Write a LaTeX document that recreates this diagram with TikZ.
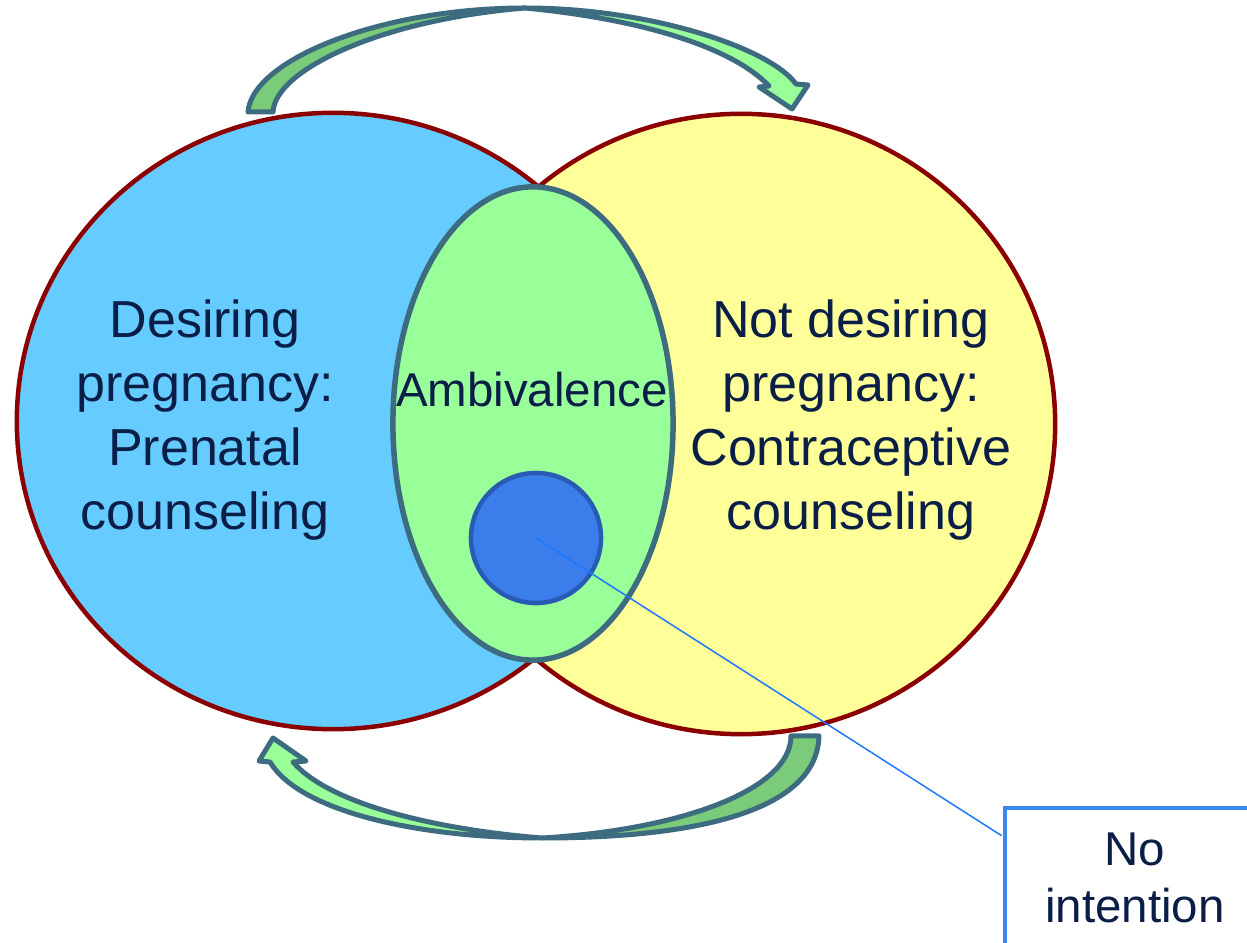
\documentclass[tikz,border=0pt]{standalone}
\usepackage{fontspec}
\setmainfont{Liberation Sans}
\usetikzlibrary{shapes.geometric}
\definecolor{venred}{RGB}{139,0,0}
\definecolor{venblue}{RGB}{102,204,255}
\definecolor{venyellow}{RGB}{255,255,153}
\definecolor{vengreen}{RGB}{153,255,153}
\definecolor{banddark}{RGB}{122,204,122}
\definecolor{bandedge}{RGB}{61,107,128}
\definecolor{dotblue}{RGB}{58,125,235}
\definecolor{dotedge}{RGB}{40,92,180}
\definecolor{callblue}{RGB}{30,120,255}
\definecolor{boxblue}{RGB}{60,134,240}
\definecolor{navy}{RGB}{10,30,72}
\newcommand\bigtext{\fontsize{14.8}{18.2}\selectfont}
\newcommand\smalltext{\fontsize{13.5}{16.2}\selectfont}
\begin{document}
\begin{tikzpicture}[x=0.01cm,y=-0.01cm,
  venn/.style={ellipse,draw=venred,line width=0.045cm,inner sep=0},
  vtext/.style={text=navy,align=center,inner sep=0},
  band/.style={draw=bandedge,line width=0.05cm,line join=round}]
\useasboundingbox (0,0) rectangle (1247,943);

\filldraw[band,fill=banddark] (248,112) .. controls (252,60) and (380,8) .. (525,8)
  .. controls (380,20) and (275,70) .. (273,112) -- cycle;
\filldraw[band,fill=vengreen] (525,8) .. controls (650,8) and (770,48) .. (796,84)
  -- (808,85) -- (792,109) -- (759,87) -- (769,86)
  .. controls (735,50) and (650,20) .. (525,8) -- cycle;
\filldraw[band,fill=banddark] (819,736) .. controls (817,810) and (700,838) .. (542,838)
  .. controls (680,830) and (791,790) .. (791,736) -- cycle;
\filldraw[band,fill=vengreen] (542,838) .. controls (420,838) and (300,812) .. (270,762)
  -- (259,761) -- (273,738) -- (306,761) -- (293,762)
  .. controls (330,805) and (440,830) .. (542,838) -- cycle;

\node[venn,fill=venblue,minimum width=6.32cm,minimum height=6.16cm] (desire) at (333,421) {};
\node[venn,fill=venyellow,minimum width=6.28cm,minimum height=6.20cm] (nodesire) at (741,424) {};
\node[ellipse,draw=bandedge,fill=vengreen,line width=0.055cm,inner sep=0,
  minimum width=2.80cm,minimum height=4.73cm] (ambi) at (533,423.5) {};
\node[circle,draw=dotedge,fill=dotblue,line width=0.045cm,inner sep=0,
  minimum size=1.30cm] (nointent) at (536,538) {};

\node[vtext,font=\bigtext] (desiretext) at (205,420) {Desiring\\pregnancy:\\Prenatal\\counseling};
\node[vtext,font=\bigtext] (nodesiretext) at (851,420) {Not desiring\\pregnancy:\\Contraceptive\\counseling};
\node[vtext,font=\smalltext,anchor=base] (ambitext) at (532,407) {Ambivalence};

\node[draw=boxblue,fill=white,line width=0.045cm,text=navy,align=center,font=\smalltext,
  minimum width=2.6cm,minimum height=1.4cm] (nointenttext) at (1135,878) {No\\intention};
\draw[callblue,line width=0.015cm] (nointent.center) -- ([xshift=-0.01cm,yshift=-0.3cm]nointenttext.north west);
\end{tikzpicture}
\end{document}
